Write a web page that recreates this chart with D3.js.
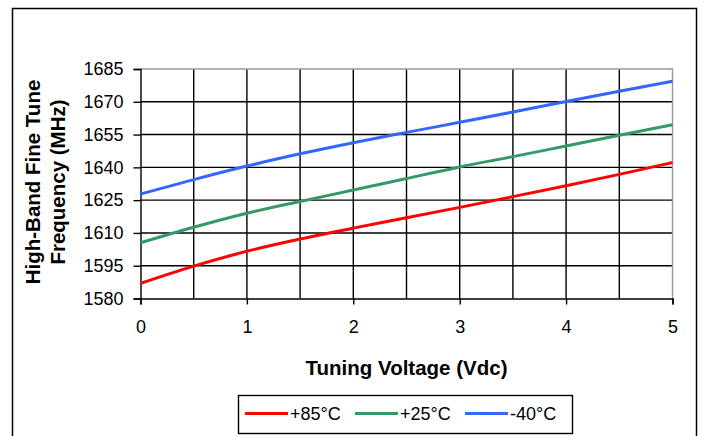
<!DOCTYPE html>
<html><head><meta charset="utf-8">
<script src="https://cdn.jsdelivr.net/npm/d3@7"></script>
<style>body{margin:0;background:#fff}svg{display:block}</style>
</head><body><svg id="c" width="703" height="436"></svg>
<script>
const voltage = [0, 0.5, 1, 1.5, 2, 2.5, 3, 3.5, 4, 4.5, 5];
const plus85 = [1586.9, 1594.8, 1601.6, 1607.2, 1612.2, 1616.9, 1621.7, 1626.6, 1631.6, 1636.8, 1642.2];
const plus25 = [1605.5, 1612.6, 1619.0, 1624.4, 1629.6, 1634.9, 1640.2, 1644.9, 1649.8, 1654.7, 1659.5];
const minus40 = [1627.8, 1634.4, 1640.6, 1646.2, 1651.3, 1656.0, 1660.6, 1665.3, 1670.1, 1674.8, 1679.4];
const seriesNames = ["+85°C", "+25°C", "-40°C"];
const seriesColors = ["#ff0000", "#339966", "#3366ff"];
const xTicks = [0, 1, 2, 3, 4, 5];
const yTicks = [1580, 1595, 1610, 1625, 1640, 1655, 1670, 1685];

const svg = d3.select("#c");
const font = "'Liberation Sans', Arial, sans-serif";
const L = 140.5, R = 672.5, T = 69, B = 298.5;
const x = d3.scaleLinear().domain([0, 5]).range([L, R]);
const y = d3.scaleLinear().domain([1580, 1685]).range([B, T]);

// outer frame
svg.append("rect").attr("x", 12.5).attr("y", 8.5).attr("width", 684).attr("height", 440)
  .attr("fill", "none").attr("stroke", "#000").attr("stroke-width", 1.5);

// gridlines
const g = svg.append("g");
d3.range(0.5, 5, 0.5).forEach(v => {
  g.append("line").attr("x1", x(v)).attr("x2", x(v)).attr("y1", T).attr("y2", B)
    .attr("stroke", "#000").attr("stroke-width", 1.4);
});
yTicks.slice(1, -1).forEach(v => {
  g.append("line").attr("x1", L).attr("x2", R).attr("y1", y(v)).attr("y2", y(v))
    .attr("stroke", "#000").attr("stroke-width", 1.4);
});
// plot border top/right gray
g.append("path").attr("d", `M${L},${T}H${R}V${B}`).attr("fill", "none")
  .attr("stroke", "#999").attr("stroke-width", 1.4);

// axes
const yAxis = d3.axisLeft(y).tickValues(yTicks).tickSize(7).tickPadding(10).tickFormat(d3.format("d"));
const ya = svg.append("g").attr("transform", `translate(${L},0)`).call(yAxis);
const xAxis = d3.axisBottom(x).tickValues(xTicks).tickSize(6).tickPadding(16).tickFormat(d3.format("d"));
const xa = svg.append("g").attr("transform", `translate(0,${B})`).call(xAxis);
[ya, xa].forEach(a => {
  a.select(".domain").attr("stroke", "#000").attr("stroke-width", 1.4);
  a.selectAll(".tick line").attr("stroke", "#000").attr("stroke-width", 1.4);
  a.selectAll("text").attr("font-family", font).attr("font-size", 18).attr("fill", "#000");
});

// series
const line = d3.line().x((d, i) => x(voltage[i])).y(d => y(d)).curve(d3.curveMonotoneX);
[plus85, plus25, minus40].forEach((s, i) => {
  svg.append("path").datum(s).attr("d", line).attr("fill", "none")
    .attr("stroke", seriesColors[i]).attr("stroke-width", 3);
});

// axis titles
svg.append("text").attr("x", (L + R) / 2).attr("y", 375).attr("text-anchor", "middle")
  .attr("font-family", font).attr("font-weight", "bold").attr("font-size", 20.5).text("Tuning Voltage (Vdc)");
const yt = svg.append("text").attr("transform", `translate(0,182) rotate(-90)`)
  .attr("text-anchor", "middle").attr("font-family", font).attr("font-weight", "bold").attr("font-size", 20.5);
yt.append("tspan").attr("x", 0).attr("y", 40).text("High-Band Fine Tune");
yt.append("tspan").attr("x", 0).attr("y", 65).text("Frequency (MHz)");

// legend
svg.append("rect").attr("x", 238.5).attr("y", 395.5).attr("width", 334).attr("height", 38)
  .attr("fill", "#fff").attr("stroke", "#000").attr("stroke-width", 1.4);
const lx = [245, 355, 465];
seriesNames.forEach((n, i) => {
  svg.append("line").attr("x1", lx[i]).attr("x2", lx[i] + 43).attr("y1", 413.5).attr("y2", 413.5)
    .attr("stroke", seriesColors[i]).attr("stroke-width", 3);
  svg.append("text").attr("x", lx[i] + 45).attr("y", 420).attr("font-family", font)
    .attr("font-size", 18).text(n);
});
</script></body></html>
